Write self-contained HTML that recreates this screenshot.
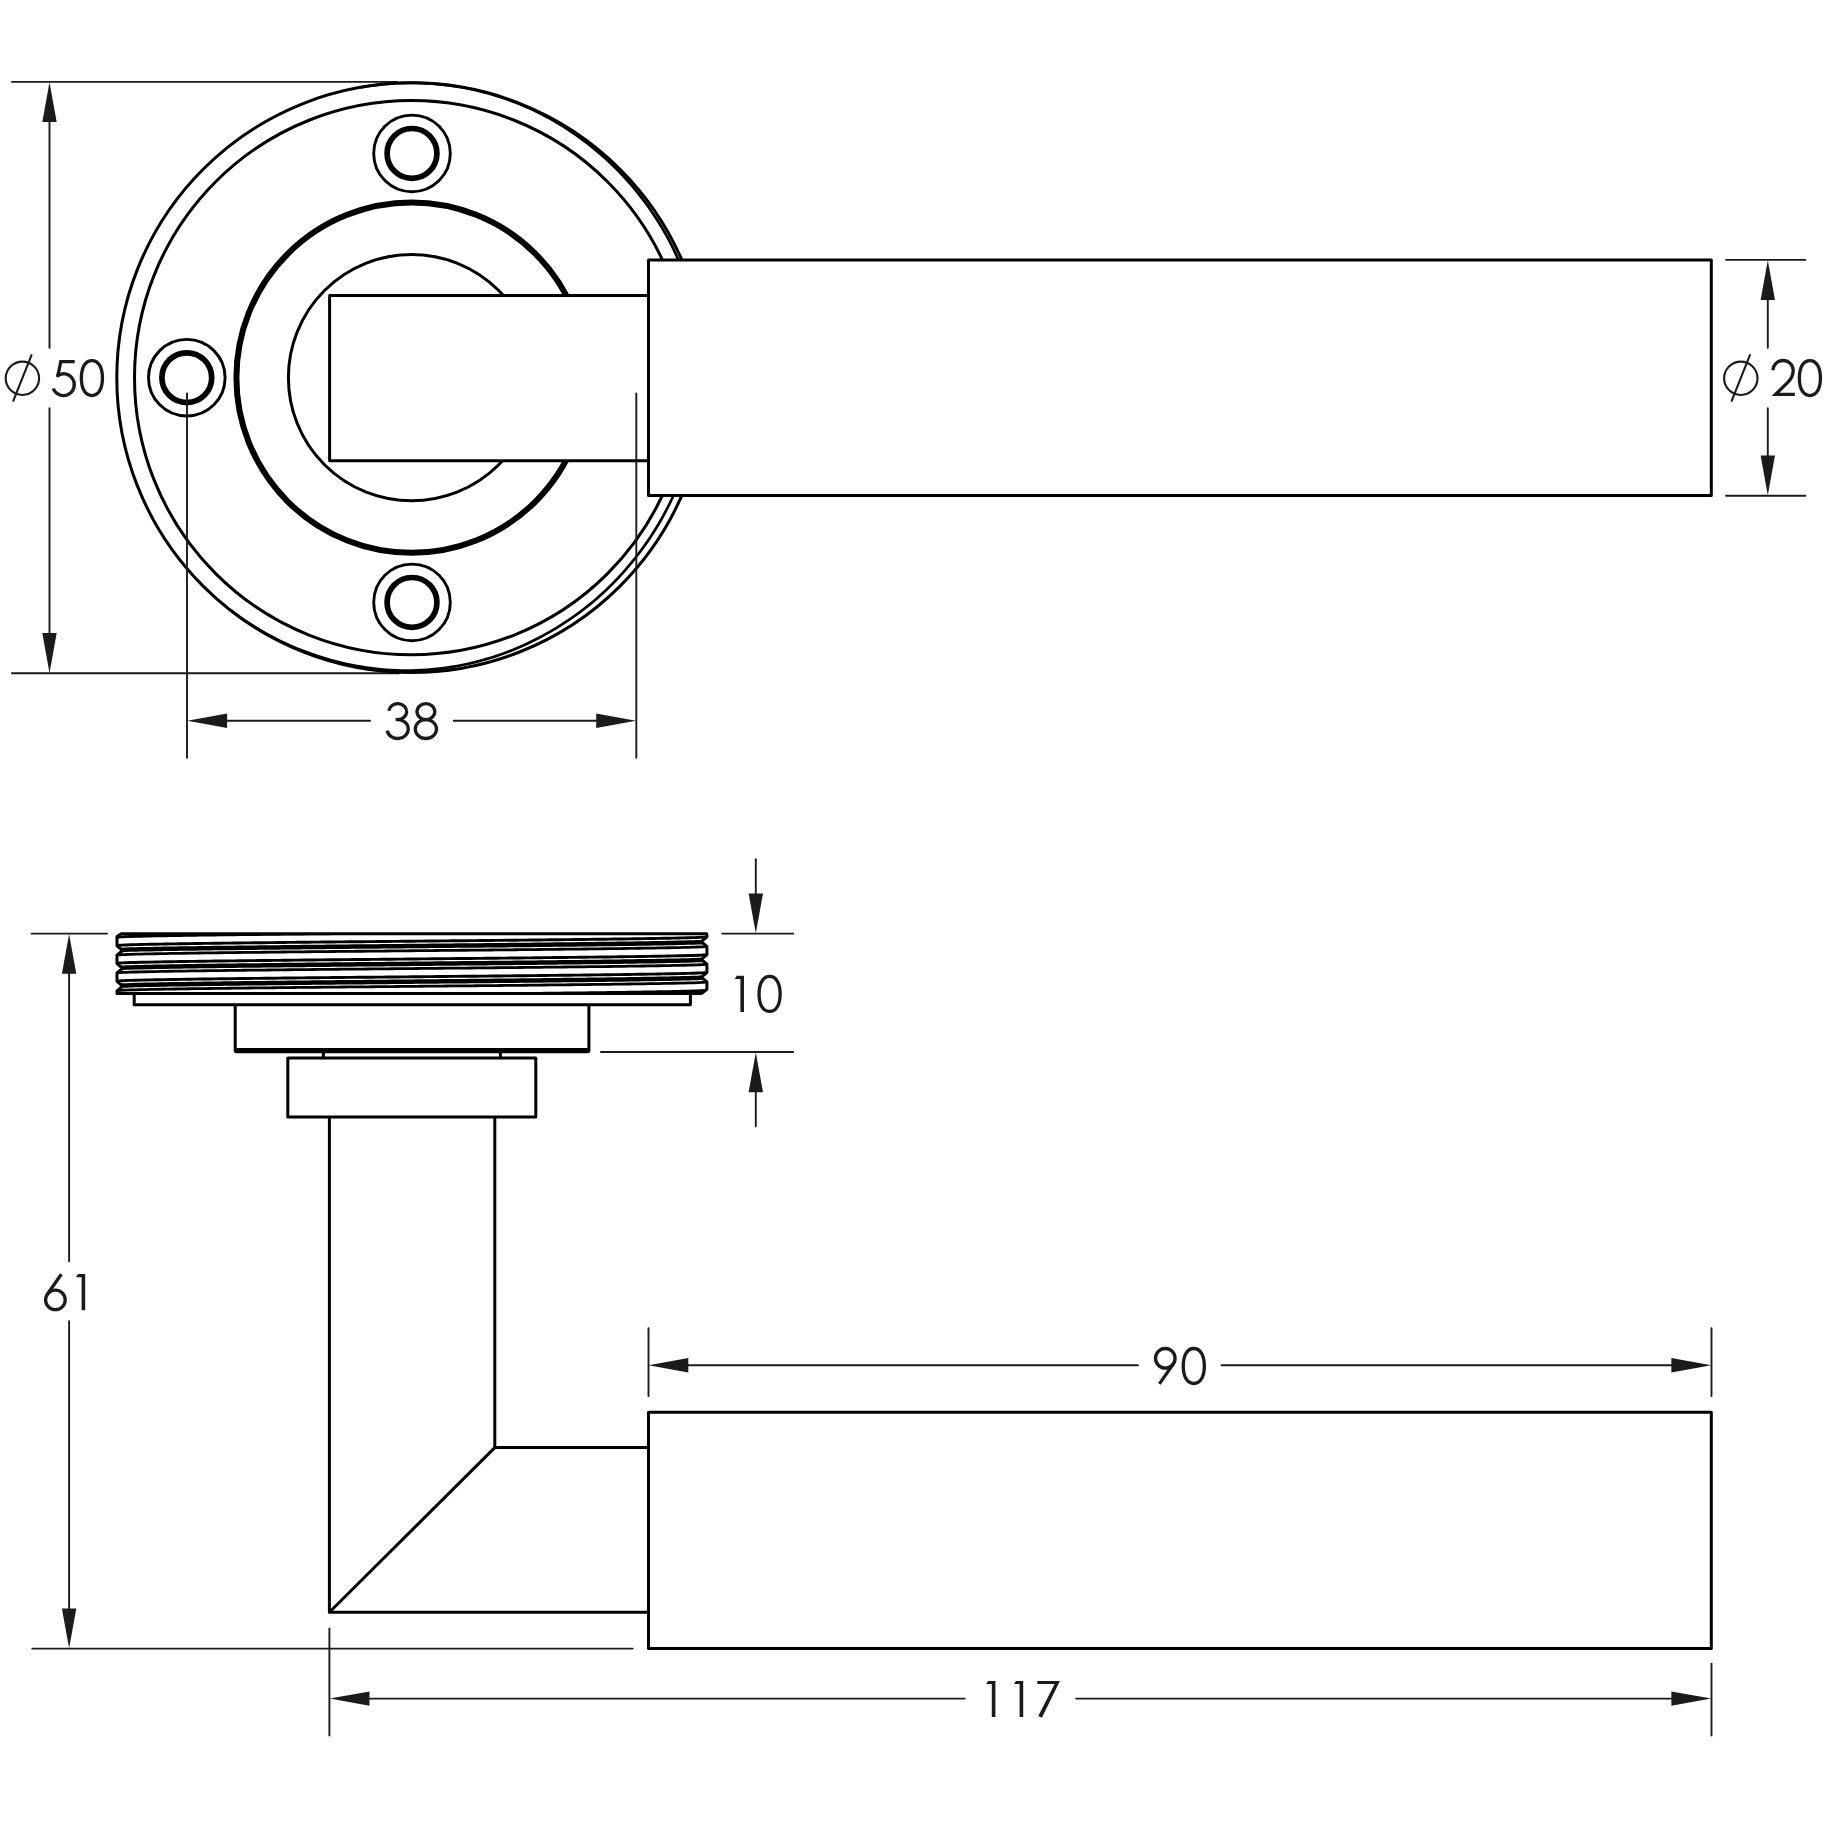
<!DOCTYPE html>
<html><head><meta charset="utf-8"><title>Lever handle dimensions</title>
<style>html,body{margin:0;padding:0;background:#fff;font-family:"Liberation Sans",sans-serif}svg{display:block}.o{fill:none;stroke:#000;stroke-width:3;stroke-linejoin:round}.w{fill:#fff;stroke:#000;stroke-width:3;stroke-linejoin:round}.t{fill:none;stroke:#1b1b1b;stroke-width:1.9;stroke-linecap:round}.f{fill:#1b1b1b;stroke:none}.g{fill:none;stroke:#1b1b1b;stroke-width:3.3}</style></head><body>
<svg width="1832" height="1832" viewBox="0 0 1832 1832">
<rect width="1832" height="1832" fill="#fff"/>
<g id="top">
<path d="M11.90,81.90 L397.10,81.90" class="t"/>
<path d="M11.90,673.30 L399.10,673.30" class="t"/>
<circle cx="411.6" cy="377.65" r="294.8" class="o"/>
<path d="M360.41,87.33 L365.48,86.48 L370.57,85.72 L375.67,85.05 L380.79,84.46 L385.91,83.97 L391.04,83.57 L396.17,83.26 L401.31,83.04 L406.46,82.91 L411.60,82.87 L416.74,82.93 L421.89,83.08 L427.03,83.32 L432.16,83.65 L437.28,84.07 L442.40,84.58 L447.51,85.19 L452.61,85.88 L457.69,86.66 L462.76,87.53 L467.81,88.48 L472.84,89.53 L477.85,90.67 L482.84,91.90 L487.81,93.23 L492.75,94.64 L497.66,96.15 L502.55,97.74 L507.40,99.42 L512.22,101.19 L517.01,103.05 L521.76,104.99 L526.48,107.01 L531.16,109.12 L535.79,111.32 L540.39,113.59 L544.94,115.95 L549.45,118.39 L553.91,120.91 L558.33,123.51 L562.69,126.19 L567.01,128.94 L571.28,131.76 L575.50,134.65 L579.67,137.62 L583.79,140.65 L587.86,143.75 L591.87,146.91 L595.83,150.15 L599.73,153.45 L603.57,156.81 L607.35,160.24 L611.07,163.74 L614.73,167.30 L618.33,170.92 L621.86,174.60 L625.33,178.34 L628.74,182.14 L632.08,185.99 L635.36,189.89 L638.57,193.85 L641.72,197.86 L644.79,201.93 L647.80,206.04 L650.74,210.20 L653.60,214.42 L656.39,218.68 L659.11,222.99 L661.75,227.34 L664.32,231.74 L666.81,236.19 L669.22,240.67 L671.54,245.20 L673.78,249.77 L675.93,254.39 L678.00,259.04 L679.97,263.73 L681.85,268.46 L683.64,273.22 L685.33,278.02 L686.94,282.84 L688.45,287.70 L689.88,292.57 L691.23,297.47 L692.49,302.39 L693.66,307.32 L694.75,312.28 L695.75,317.25 L696.66,322.24 L697.49,327.24 L698.23,332.25 L698.88,337.28 L699.44,342.31 L699.91,347.35 L700.30,352.39 L700.59,357.44 L700.80,362.49 L700.93,367.55 L700.96,372.60 L700.91,377.65 L700.77,382.70 L700.55,387.74 L700.24,392.78 L699.84,397.81 L699.35,402.83 L698.78,407.83 L698.12,412.83 L697.37,417.81 L696.54,422.78 L695.62,427.73 L694.62,432.66 L693.52,437.57 L692.35,442.47 L691.09,447.33 L689.74,452.18 L688.31,457.00 L686.80,461.79 L685.20,466.55 L683.53,471.28 L681.77,475.98 L679.93,480.65 L678.02,485.29 L676.05,489.90 L674.00,494.48 L671.88,499.02 L669.70,503.53 L667.44,508.01 L665.12,512.45 L662.73,516.85 L660.27,521.22 L657.73,525.54 L655.12,529.82 L652.43,534.05 L649.67,538.23 L646.84,542.37 L643.95,546.46 L640.99,550.51 L637.96,554.50 L634.88,558.46 L631.73,562.36 L628.52,566.22 L625.25,570.02 L621.92,573.78 L618.53,577.48 L615.07,581.12 L611.55,584.71 L607.97,588.23 L604.32,591.69 L600.61,595.09 L596.85,598.42 L593.02,601.69 L589.14,604.89 L585.20,608.02 L581.20,611.09 L577.15,614.08 L573.05,617.01 L568.90,619.88 L564.71,622.67 L560.46,625.40 L556.18,628.06 L551.84,630.65 L547.46,633.17 L543.04,635.62 L538.58,638.00 L534.08,640.30 L529.53,642.53 L524.95,644.68 L520.32,646.74 L515.66,648.73 L510.96,650.63 L506.22,652.46 L501.46,654.20 L496.66,655.85 L491.82,657.42 L486.96,658.91 L482.07,660.30 L477.16,661.61 L472.22,662.84 L467.26,663.97 L462.27,665.02 L457.27,665.98 L452.24,666.85 L447.21,667.63 L442.15,668.33 L437.08,668.94 L432.01,669.46 L426.92,669.88 L421.82,670.21 L416.71,670.44 L411.60,670.57 L406.49,670.61 L401.37,670.55 L396.26,670.39 L391.15,670.14 L386.04,669.78 L380.94,669.34 L375.85,668.81 L370.77,668.19 L365.69,667.48 L360.63,666.69 L355.59,665.80 L350.56,664.83 L345.55,663.76 L340.55,662.61 L335.58,661.37 L330.62,660.05 L325.69,658.64 L320.79,657.14 L315.91,655.56 L311.06,653.89 L306.24,652.14 L301.44,650.30 L296.68,648.38 L291.96,646.37 L287.27,644.29 L282.61,642.12 L277.99,639.87 L273.42,637.54 L268.88,635.12 L264.38,632.63 L259.93,630.07 L255.53,627.42 L251.17,624.70 L246.85,621.90 L242.59,619.02 L238.38,616.06 L234.23,613.03 L230.13,609.92" class="o" style="stroke-width:2.7;stroke-linejoin:round"/>
<circle cx="411.6" cy="377.65" r="277.1" class="o"/>
<circle cx="411.6" cy="377.65" r="175.2" class="o" style="stroke-width:6.0"/>
<circle cx="411.6" cy="377.65" r="123.2" class="o"/>
<circle cx="412" cy="153.4" r="38.3" class="o" style="stroke-width:2.9"/>
<circle cx="412" cy="153.4" r="24.9" class="o" style="stroke-width:5.7"/>
<circle cx="412" cy="602.4" r="38.3" class="o" style="stroke-width:2.9"/>
<circle cx="412" cy="602.4" r="24.9" class="o" style="stroke-width:5.7"/>
<circle cx="186.8" cy="377.7" r="38.3" class="o" style="stroke-width:2.9"/>
<circle cx="186.8" cy="377.7" r="24.9" class="o" style="stroke-width:5.7"/>
<rect x="329.6" y="295.4" width="318.9" height="165.4" class="w"/>
<rect x="648.5" y="259.9" width="1062.8" height="235.7" class="w"/>
<path d="M49.50,120.90 L49.50,347.70" class="t"/>
<path d="M49.50,408.10 L49.50,635.10" class="t"/>
<polygon points="49.50,82.20 42.30,122.00 56.70,122.00" class="f"/>
<polygon points="49.50,672.90 42.30,633.10 56.70,633.10" class="f"/>
<circle cx="22.4" cy="378.3" r="16.7" class="t" style="stroke-width:2.1"/><path d="M13.00,401.70 L31.80,354.40" class="t" style="stroke-width:2.1;stroke-linecap:butt"/>
<path d="M74.70,361.65 L60.80,361.65 L57.60,377.20" class="g" stroke-linejoin="miter"/><path d="M56.90,375.93 A10.9 10.9 0 1 1 53.20,388.50" class="g"/>
<path d="M81.35,378.10 C81.35,367.08 85.57,360.60 91.90,360.60 C98.23,360.60 102.45,367.08 102.45,378.10 C102.45,389.12 98.23,395.60 91.90,395.60 C85.57,395.60 81.35,389.12 81.35,378.10Z" class="g"/>
<path d="M187.00,393.40 L187.00,757.80" class="t"/>
<path d="M636.30,393.40 L636.30,757.80" class="t"/>
<path d="M226.90,720.80 L370.10,720.80" class="t"/>
<path d="M453.70,720.80 L596.10,720.80" class="t"/>
<polygon points="187.30,720.80 227.10,713.60 227.10,728.00" class="f"/>
<polygon points="636.00,720.80 596.20,713.60 596.20,728.00" class="f"/>
<path d="M388.90,710.90 A8.9 8.0 0 1 1 397.40,719.60 L395.60,719.60 M395.60,719.60 L397.40,719.60 A10.6 9.45 0 1 1 387.20,730.60" class="g"/>
<ellipse cx="425.90" cy="711.60" rx="8.9" ry="8.0" class="g"/><ellipse cx="425.90" cy="729.05" rx="10.6" ry="9.45" class="g"/>
<path d="M1726.10,259.90 L1805.40,259.90" class="t"/>
<path d="M1726.10,495.70 L1805.40,495.70" class="t"/>
<path d="M1767.80,298.90 L1767.80,347.70" class="t"/>
<path d="M1767.80,408.10 L1767.80,457.10" class="t"/>
<polygon points="1767.80,260.30 1760.60,300.10 1775.00,300.10" class="f"/>
<polygon points="1767.80,495.30 1760.60,455.50 1775.00,455.50" class="f"/>
<circle cx="1740.8" cy="378.3" r="16.7" class="t" style="stroke-width:2.1"/><path d="M1731.40,401.70 L1750.20,354.40" class="t" style="stroke-width:2.1;stroke-linecap:butt"/>
<path d="M1772.97,370.30 A10.1 9.8 0 0 1 1793.17,370.30 C1793.17,375.50 1791.67,378.40 1788.27,381.90 L1775.57,394.40 L1794.87,394.40" class="g" stroke-linejoin="miter" stroke-miterlimit="6"/>
<path d="M1799.35,378.10 C1799.35,367.08 1803.57,360.60 1809.90,360.60 C1816.23,360.60 1820.45,367.08 1820.45,378.10 C1820.45,389.12 1816.23,395.60 1809.90,395.60 C1803.57,395.60 1799.35,389.12 1799.35,378.10Z" class="g"/>
</g>
<g id="side">
<clipPath id="cs"><polygon points="121.20,933.80 706.70,933.80 706.90,936.00 706.90,936.90 701.30,941.60 706.90,946.30 706.90,954.70 701.30,959.40 706.90,964.10 706.90,972.50 701.30,977.20 706.90,981.90 706.90,989.30 701.70,993.40 117.00,993.40 117.00,990.80 122.60,986.10 117.00,981.40 117.00,973.00 122.60,968.30 117.00,963.60 117.00,955.20 122.60,950.50 117.00,945.80 117.00,937.40 117.00,936.60"/></clipPath>
<polygon points="121.20,933.80 706.70,933.80 706.90,936.00 706.90,936.90 701.30,941.60 706.90,946.30 706.90,954.70 701.30,959.40 706.90,964.10 706.90,972.50 701.30,977.20 706.90,981.90 706.90,989.30 701.70,993.40 117.00,993.40 117.00,990.80 122.60,986.10 117.00,981.40 117.00,973.00 122.60,968.30 117.00,963.60 117.00,955.20 122.60,950.50 117.00,945.80 117.00,937.40 117.00,936.60" fill="#fff" stroke="none"/>
<g clip-path="url(#cs)">
<path d="M116.00,927.85 L117.50,927.65 L118.50,927.55 L120.00,927.43 L120.93,927.38 L122.00,927.32 L125.00,927.18 L125.86,927.15 L130.80,926.97 L135.73,926.83 L140.66,926.70 L145.59,926.59 L150.53,926.48 L155.46,926.38 L160.39,926.29 L165.32,926.20 L170.26,926.12 L175.19,926.04 L180.12,925.96 L185.06,925.88 L189.99,925.81 L194.92,925.74 L199.85,925.67 L204.78,925.60 L209.72,925.54 L214.65,925.47 L219.58,925.41 L224.51,925.35 L229.45,925.29 L234.38,925.23 L239.31,925.17 L244.25,925.11 L249.18,925.06 L254.11,925.00 L259.04,924.94 L263.98,924.89 L268.91,924.83 L273.84,924.78 L278.77,924.73 L283.71,924.67 L288.64,924.62 L293.57,924.57 L298.50,924.52 L303.44,924.47 L308.37,924.42 L313.30,924.37 L318.23,924.32 L323.16,924.27 L328.10,924.22 L333.03,924.17 L337.96,924.12 L342.89,924.07 L347.83,924.02 L352.76,923.97 L357.69,923.92 L362.62,923.88 L367.56,923.83 L372.49,923.78 L377.42,923.73 L382.36,923.68 L387.29,923.64 L392.22,923.59 L397.15,923.54 L402.08,923.50 L407.02,923.45 L411.95,923.40 L416.88,923.35 L421.81,923.31 L426.75,923.26 L431.68,923.21 L436.61,923.16 L441.55,923.12 L446.48,923.07 L451.41,923.02 L456.34,922.97 L461.28,922.92 L466.21,922.88 L471.14,922.83 L476.07,922.78 L481.00,922.73 L485.94,922.68 L490.87,922.63 L495.80,922.58 L500.74,922.54 L505.67,922.49 L510.60,922.44 L515.53,922.38 L520.47,922.33 L525.40,922.28 L530.33,922.23 L535.26,922.18 L540.19,922.13 L545.13,922.07 L550.06,922.02 L554.99,921.97 L559.92,921.91 L564.86,921.86 L569.79,921.80 L574.72,921.75 L579.65,921.69 L584.59,921.63 L589.52,921.57 L594.45,921.51 L599.38,921.45 L604.32,921.39 L609.25,921.33 L614.18,921.26 L619.12,921.20 L624.05,921.13 L628.98,921.06 L633.91,920.99 L638.85,920.92 L643.78,920.84 L648.71,920.76 L653.64,920.68 L658.58,920.60 L663.51,920.51 L668.44,920.42 L673.37,920.32 L678.31,920.21 L683.24,920.10 L688.17,919.97 L693.10,919.83 L698.03,919.66 L698.90,919.62 L701.90,919.49 L702.97,919.43 L703.90,919.37 L705.40,919.26 L706.40,919.16 L707.90,918.95" stroke="#000" stroke-width="2.9" fill="none" stroke-linejoin="round"/>
<path d="M116.00,932.70 L117.50,932.50 L118.50,932.40 L120.00,932.28 L120.93,932.23 L122.00,932.17 L125.00,932.03 L125.86,932.00 L130.80,931.82 L135.73,931.68 L140.66,931.55 L145.59,931.44 L150.53,931.33 L155.46,931.23 L160.39,931.14 L165.32,931.05 L170.26,930.97 L175.19,930.89 L180.12,930.81 L185.06,930.73 L189.99,930.66 L194.92,930.59 L199.85,930.52 L204.78,930.45 L209.72,930.39 L214.65,930.32 L219.58,930.26 L224.51,930.20 L229.45,930.14 L234.38,930.08 L239.31,930.02 L244.25,929.96 L249.18,929.91 L254.11,929.85 L259.04,929.79 L263.98,929.74 L268.91,929.68 L273.84,929.63 L278.77,929.58 L283.71,929.52 L288.64,929.47 L293.57,929.42 L298.50,929.37 L303.44,929.32 L308.37,929.27 L313.30,929.22 L318.23,929.17 L323.16,929.12 L328.10,929.07 L333.03,929.02 L337.96,928.97 L342.89,928.92 L347.83,928.87 L352.76,928.82 L357.69,928.77 L362.62,928.73 L367.56,928.68 L372.49,928.63 L377.42,928.58 L382.36,928.53 L387.29,928.49 L392.22,928.44 L397.15,928.39 L402.08,928.35 L407.02,928.30 L411.95,928.25 L416.88,928.20 L421.81,928.16 L426.75,928.11 L431.68,928.06 L436.61,928.01 L441.55,927.97 L446.48,927.92 L451.41,927.87 L456.34,927.82 L461.28,927.77 L466.21,927.73 L471.14,927.68 L476.07,927.63 L481.00,927.58 L485.94,927.53 L490.87,927.48 L495.80,927.43 L500.74,927.39 L505.67,927.34 L510.60,927.29 L515.53,927.23 L520.47,927.18 L525.40,927.13 L530.33,927.08 L535.26,927.03 L540.19,926.98 L545.13,926.92 L550.06,926.87 L554.99,926.82 L559.92,926.76 L564.86,926.71 L569.79,926.65 L574.72,926.60 L579.65,926.54 L584.59,926.48 L589.52,926.42 L594.45,926.36 L599.38,926.30 L604.32,926.24 L609.25,926.18 L614.18,926.11 L619.12,926.05 L624.05,925.98 L628.98,925.91 L633.91,925.84 L638.85,925.77 L643.78,925.69 L648.71,925.61 L653.64,925.53 L658.58,925.45 L663.51,925.36 L668.44,925.27 L673.37,925.17 L678.31,925.06 L683.24,924.95 L688.17,924.82 L693.10,924.68 L698.03,924.51 L698.90,924.47 L701.90,924.34 L702.97,924.28 L703.90,924.22 L705.40,924.11 L706.40,924.01 L707.90,923.80" stroke="#000" stroke-width="4.5" fill="none" stroke-linejoin="round"/>
<path d="M116.00,937.40 L117.50,937.20 L118.50,937.10 L120.00,936.98 L120.93,936.93 L122.00,936.87 L125.00,936.73 L125.86,936.70 L130.80,936.52 L135.73,936.38 L140.66,936.25 L145.59,936.14 L150.53,936.03 L155.46,935.93 L160.39,935.84 L165.32,935.75 L170.26,935.67 L175.19,935.59 L180.12,935.51 L185.06,935.43 L189.99,935.36 L194.92,935.29 L199.85,935.22 L204.78,935.15 L209.72,935.09 L214.65,935.02 L219.58,934.96 L224.51,934.90 L229.45,934.84 L234.38,934.78 L239.31,934.72 L244.25,934.66 L249.18,934.61 L254.11,934.55 L259.04,934.49 L263.98,934.44 L268.91,934.38 L273.84,934.33 L278.77,934.28 L283.71,934.22 L288.64,934.17 L293.57,934.12 L298.50,934.07 L303.44,934.02 L308.37,933.97 L313.30,933.92 L318.23,933.87 L323.16,933.82 L328.10,933.77 L333.03,933.72 L337.96,933.67 L342.89,933.62 L347.83,933.57 L352.76,933.52 L357.69,933.47 L362.62,933.43 L367.56,933.38 L372.49,933.33 L377.42,933.28 L382.36,933.23 L387.29,933.19 L392.22,933.14 L397.15,933.09 L402.08,933.05 L407.02,933.00 L411.95,932.95 L416.88,932.90 L421.81,932.86 L426.75,932.81 L431.68,932.76 L436.61,932.71 L441.55,932.67 L446.48,932.62 L451.41,932.57 L456.34,932.52 L461.28,932.47 L466.21,932.43 L471.14,932.38 L476.07,932.33 L481.00,932.28 L485.94,932.23 L490.87,932.18 L495.80,932.13 L500.74,932.09 L505.67,932.04 L510.60,931.99 L515.53,931.93 L520.47,931.88 L525.40,931.83 L530.33,931.78 L535.26,931.73 L540.19,931.68 L545.13,931.62 L550.06,931.57 L554.99,931.52 L559.92,931.46 L564.86,931.41 L569.79,931.35 L574.72,931.30 L579.65,931.24 L584.59,931.18 L589.52,931.12 L594.45,931.06 L599.38,931.00 L604.32,930.94 L609.25,930.88 L614.18,930.81 L619.12,930.75 L624.05,930.68 L628.98,930.61 L633.91,930.54 L638.85,930.47 L643.78,930.39 L648.71,930.31 L653.64,930.23 L658.58,930.15 L663.51,930.06 L668.44,929.97 L673.37,929.87 L678.31,929.76 L683.24,929.65 L688.17,929.52 L693.10,929.38 L698.03,929.21 L698.90,929.17 L701.90,929.04 L702.97,928.98 L703.90,928.92 L705.40,928.81 L706.40,928.71 L707.90,928.50" stroke="#000" stroke-width="2.8" fill="none" stroke-linejoin="round"/>
<path d="M116.00,945.65 L117.50,945.45 L118.50,945.35 L120.00,945.23 L120.93,945.18 L122.00,945.12 L125.00,944.98 L125.86,944.95 L130.80,944.77 L135.73,944.63 L140.66,944.50 L145.59,944.39 L150.53,944.28 L155.46,944.18 L160.39,944.09 L165.32,944.00 L170.26,943.92 L175.19,943.84 L180.12,943.76 L185.06,943.68 L189.99,943.61 L194.92,943.54 L199.85,943.47 L204.78,943.40 L209.72,943.34 L214.65,943.27 L219.58,943.21 L224.51,943.15 L229.45,943.09 L234.38,943.03 L239.31,942.97 L244.25,942.91 L249.18,942.86 L254.11,942.80 L259.04,942.74 L263.98,942.69 L268.91,942.63 L273.84,942.58 L278.77,942.53 L283.71,942.47 L288.64,942.42 L293.57,942.37 L298.50,942.32 L303.44,942.27 L308.37,942.22 L313.30,942.17 L318.23,942.12 L323.16,942.07 L328.10,942.02 L333.03,941.97 L337.96,941.92 L342.89,941.87 L347.83,941.82 L352.76,941.77 L357.69,941.72 L362.62,941.68 L367.56,941.63 L372.49,941.58 L377.42,941.53 L382.36,941.48 L387.29,941.44 L392.22,941.39 L397.15,941.34 L402.08,941.30 L407.02,941.25 L411.95,941.20 L416.88,941.15 L421.81,941.11 L426.75,941.06 L431.68,941.01 L436.61,940.96 L441.55,940.92 L446.48,940.87 L451.41,940.82 L456.34,940.77 L461.28,940.72 L466.21,940.68 L471.14,940.63 L476.07,940.58 L481.00,940.53 L485.94,940.48 L490.87,940.43 L495.80,940.38 L500.74,940.34 L505.67,940.29 L510.60,940.24 L515.53,940.18 L520.47,940.13 L525.40,940.08 L530.33,940.03 L535.26,939.98 L540.19,939.93 L545.13,939.87 L550.06,939.82 L554.99,939.77 L559.92,939.71 L564.86,939.66 L569.79,939.60 L574.72,939.55 L579.65,939.49 L584.59,939.43 L589.52,939.37 L594.45,939.31 L599.38,939.25 L604.32,939.19 L609.25,939.13 L614.18,939.06 L619.12,939.00 L624.05,938.93 L628.98,938.86 L633.91,938.79 L638.85,938.72 L643.78,938.64 L648.71,938.56 L653.64,938.48 L658.58,938.40 L663.51,938.31 L668.44,938.22 L673.37,938.12 L678.31,938.01 L683.24,937.90 L688.17,937.77 L693.10,937.63 L698.03,937.46 L698.90,937.42 L701.90,937.29 L702.97,937.23 L703.90,937.17 L705.40,937.06 L706.40,936.96 L707.90,936.75" stroke="#000" stroke-width="2.9" fill="none" stroke-linejoin="round"/>
<path d="M116.00,950.50 L117.50,950.30 L118.50,950.20 L120.00,950.08 L120.93,950.03 L122.00,949.97 L125.00,949.83 L125.86,949.80 L130.80,949.62 L135.73,949.48 L140.66,949.35 L145.59,949.24 L150.53,949.13 L155.46,949.03 L160.39,948.94 L165.32,948.85 L170.26,948.77 L175.19,948.69 L180.12,948.61 L185.06,948.53 L189.99,948.46 L194.92,948.39 L199.85,948.32 L204.78,948.25 L209.72,948.19 L214.65,948.12 L219.58,948.06 L224.51,948.00 L229.45,947.94 L234.38,947.88 L239.31,947.82 L244.25,947.76 L249.18,947.71 L254.11,947.65 L259.04,947.59 L263.98,947.54 L268.91,947.48 L273.84,947.43 L278.77,947.38 L283.71,947.32 L288.64,947.27 L293.57,947.22 L298.50,947.17 L303.44,947.12 L308.37,947.07 L313.30,947.02 L318.23,946.97 L323.16,946.92 L328.10,946.87 L333.03,946.82 L337.96,946.77 L342.89,946.72 L347.83,946.67 L352.76,946.62 L357.69,946.57 L362.62,946.53 L367.56,946.48 L372.49,946.43 L377.42,946.38 L382.36,946.33 L387.29,946.29 L392.22,946.24 L397.15,946.19 L402.08,946.15 L407.02,946.10 L411.95,946.05 L416.88,946.00 L421.81,945.96 L426.75,945.91 L431.68,945.86 L436.61,945.81 L441.55,945.77 L446.48,945.72 L451.41,945.67 L456.34,945.62 L461.28,945.57 L466.21,945.53 L471.14,945.48 L476.07,945.43 L481.00,945.38 L485.94,945.33 L490.87,945.28 L495.80,945.23 L500.74,945.19 L505.67,945.14 L510.60,945.09 L515.53,945.03 L520.47,944.98 L525.40,944.93 L530.33,944.88 L535.26,944.83 L540.19,944.78 L545.13,944.72 L550.06,944.67 L554.99,944.62 L559.92,944.56 L564.86,944.51 L569.79,944.45 L574.72,944.40 L579.65,944.34 L584.59,944.28 L589.52,944.22 L594.45,944.16 L599.38,944.10 L604.32,944.04 L609.25,943.98 L614.18,943.91 L619.12,943.85 L624.05,943.78 L628.98,943.71 L633.91,943.64 L638.85,943.57 L643.78,943.49 L648.71,943.41 L653.64,943.33 L658.58,943.25 L663.51,943.16 L668.44,943.07 L673.37,942.97 L678.31,942.86 L683.24,942.75 L688.17,942.62 L693.10,942.48 L698.03,942.31 L698.90,942.27 L701.90,942.14 L702.97,942.08 L703.90,942.02 L705.40,941.91 L706.40,941.81 L707.90,941.60" stroke="#000" stroke-width="4.5" fill="none" stroke-linejoin="round"/>
<path d="M116.00,955.20 L117.50,955.00 L118.50,954.90 L120.00,954.78 L120.93,954.73 L122.00,954.67 L125.00,954.53 L125.86,954.50 L130.80,954.32 L135.73,954.18 L140.66,954.05 L145.59,953.94 L150.53,953.83 L155.46,953.73 L160.39,953.64 L165.32,953.55 L170.26,953.47 L175.19,953.39 L180.12,953.31 L185.06,953.23 L189.99,953.16 L194.92,953.09 L199.85,953.02 L204.78,952.95 L209.72,952.89 L214.65,952.82 L219.58,952.76 L224.51,952.70 L229.45,952.64 L234.38,952.58 L239.31,952.52 L244.25,952.46 L249.18,952.41 L254.11,952.35 L259.04,952.29 L263.98,952.24 L268.91,952.18 L273.84,952.13 L278.77,952.08 L283.71,952.02 L288.64,951.97 L293.57,951.92 L298.50,951.87 L303.44,951.82 L308.37,951.77 L313.30,951.72 L318.23,951.67 L323.16,951.62 L328.10,951.57 L333.03,951.52 L337.96,951.47 L342.89,951.42 L347.83,951.37 L352.76,951.32 L357.69,951.27 L362.62,951.23 L367.56,951.18 L372.49,951.13 L377.42,951.08 L382.36,951.03 L387.29,950.99 L392.22,950.94 L397.15,950.89 L402.08,950.85 L407.02,950.80 L411.95,950.75 L416.88,950.70 L421.81,950.66 L426.75,950.61 L431.68,950.56 L436.61,950.51 L441.55,950.47 L446.48,950.42 L451.41,950.37 L456.34,950.32 L461.28,950.27 L466.21,950.23 L471.14,950.18 L476.07,950.13 L481.00,950.08 L485.94,950.03 L490.87,949.98 L495.80,949.93 L500.74,949.89 L505.67,949.84 L510.60,949.79 L515.53,949.73 L520.47,949.68 L525.40,949.63 L530.33,949.58 L535.26,949.53 L540.19,949.48 L545.13,949.42 L550.06,949.37 L554.99,949.32 L559.92,949.26 L564.86,949.21 L569.79,949.15 L574.72,949.10 L579.65,949.04 L584.59,948.98 L589.52,948.92 L594.45,948.86 L599.38,948.80 L604.32,948.74 L609.25,948.68 L614.18,948.61 L619.12,948.55 L624.05,948.48 L628.98,948.41 L633.91,948.34 L638.85,948.27 L643.78,948.19 L648.71,948.11 L653.64,948.03 L658.58,947.95 L663.51,947.86 L668.44,947.77 L673.37,947.67 L678.31,947.56 L683.24,947.45 L688.17,947.32 L693.10,947.18 L698.03,947.01 L698.90,946.97 L701.90,946.84 L702.97,946.78 L703.90,946.72 L705.40,946.61 L706.40,946.51 L707.90,946.30" stroke="#000" stroke-width="2.8" fill="none" stroke-linejoin="round"/>
<path d="M116.00,963.45 L117.50,963.25 L118.50,963.15 L120.00,963.03 L120.93,962.98 L122.00,962.92 L125.00,962.78 L125.86,962.75 L130.80,962.57 L135.73,962.43 L140.66,962.30 L145.59,962.19 L150.53,962.08 L155.46,961.98 L160.39,961.89 L165.32,961.80 L170.26,961.72 L175.19,961.64 L180.12,961.56 L185.06,961.48 L189.99,961.41 L194.92,961.34 L199.85,961.27 L204.78,961.20 L209.72,961.14 L214.65,961.07 L219.58,961.01 L224.51,960.95 L229.45,960.89 L234.38,960.83 L239.31,960.77 L244.25,960.71 L249.18,960.66 L254.11,960.60 L259.04,960.54 L263.98,960.49 L268.91,960.43 L273.84,960.38 L278.77,960.33 L283.71,960.27 L288.64,960.22 L293.57,960.17 L298.50,960.12 L303.44,960.07 L308.37,960.02 L313.30,959.97 L318.23,959.92 L323.16,959.87 L328.10,959.82 L333.03,959.77 L337.96,959.72 L342.89,959.67 L347.83,959.62 L352.76,959.57 L357.69,959.52 L362.62,959.48 L367.56,959.43 L372.49,959.38 L377.42,959.33 L382.36,959.28 L387.29,959.24 L392.22,959.19 L397.15,959.14 L402.08,959.10 L407.02,959.05 L411.95,959.00 L416.88,958.95 L421.81,958.91 L426.75,958.86 L431.68,958.81 L436.61,958.76 L441.55,958.72 L446.48,958.67 L451.41,958.62 L456.34,958.57 L461.28,958.52 L466.21,958.48 L471.14,958.43 L476.07,958.38 L481.00,958.33 L485.94,958.28 L490.87,958.23 L495.80,958.18 L500.74,958.14 L505.67,958.09 L510.60,958.04 L515.53,957.98 L520.47,957.93 L525.40,957.88 L530.33,957.83 L535.26,957.78 L540.19,957.73 L545.13,957.67 L550.06,957.62 L554.99,957.57 L559.92,957.51 L564.86,957.46 L569.79,957.40 L574.72,957.35 L579.65,957.29 L584.59,957.23 L589.52,957.17 L594.45,957.11 L599.38,957.05 L604.32,956.99 L609.25,956.93 L614.18,956.86 L619.12,956.80 L624.05,956.73 L628.98,956.66 L633.91,956.59 L638.85,956.52 L643.78,956.44 L648.71,956.36 L653.64,956.28 L658.58,956.20 L663.51,956.11 L668.44,956.02 L673.37,955.92 L678.31,955.81 L683.24,955.70 L688.17,955.57 L693.10,955.43 L698.03,955.26 L698.90,955.22 L701.90,955.09 L702.97,955.03 L703.90,954.97 L705.40,954.86 L706.40,954.76 L707.90,954.55" stroke="#000" stroke-width="2.9" fill="none" stroke-linejoin="round"/>
<path d="M116.00,968.30 L117.50,968.10 L118.50,968.00 L120.00,967.88 L120.93,967.83 L122.00,967.77 L125.00,967.63 L125.86,967.60 L130.80,967.42 L135.73,967.28 L140.66,967.15 L145.59,967.04 L150.53,966.93 L155.46,966.83 L160.39,966.74 L165.32,966.65 L170.26,966.57 L175.19,966.49 L180.12,966.41 L185.06,966.33 L189.99,966.26 L194.92,966.19 L199.85,966.12 L204.78,966.05 L209.72,965.99 L214.65,965.92 L219.58,965.86 L224.51,965.80 L229.45,965.74 L234.38,965.68 L239.31,965.62 L244.25,965.56 L249.18,965.51 L254.11,965.45 L259.04,965.39 L263.98,965.34 L268.91,965.28 L273.84,965.23 L278.77,965.18 L283.71,965.12 L288.64,965.07 L293.57,965.02 L298.50,964.97 L303.44,964.92 L308.37,964.87 L313.30,964.82 L318.23,964.77 L323.16,964.72 L328.10,964.67 L333.03,964.62 L337.96,964.57 L342.89,964.52 L347.83,964.47 L352.76,964.42 L357.69,964.37 L362.62,964.33 L367.56,964.28 L372.49,964.23 L377.42,964.18 L382.36,964.13 L387.29,964.09 L392.22,964.04 L397.15,963.99 L402.08,963.95 L407.02,963.90 L411.95,963.85 L416.88,963.80 L421.81,963.76 L426.75,963.71 L431.68,963.66 L436.61,963.61 L441.55,963.57 L446.48,963.52 L451.41,963.47 L456.34,963.42 L461.28,963.37 L466.21,963.33 L471.14,963.28 L476.07,963.23 L481.00,963.18 L485.94,963.13 L490.87,963.08 L495.80,963.03 L500.74,962.99 L505.67,962.94 L510.60,962.89 L515.53,962.83 L520.47,962.78 L525.40,962.73 L530.33,962.68 L535.26,962.63 L540.19,962.58 L545.13,962.52 L550.06,962.47 L554.99,962.42 L559.92,962.36 L564.86,962.31 L569.79,962.25 L574.72,962.20 L579.65,962.14 L584.59,962.08 L589.52,962.02 L594.45,961.96 L599.38,961.90 L604.32,961.84 L609.25,961.78 L614.18,961.71 L619.12,961.65 L624.05,961.58 L628.98,961.51 L633.91,961.44 L638.85,961.37 L643.78,961.29 L648.71,961.21 L653.64,961.13 L658.58,961.05 L663.51,960.96 L668.44,960.87 L673.37,960.77 L678.31,960.66 L683.24,960.55 L688.17,960.42 L693.10,960.28 L698.03,960.11 L698.90,960.07 L701.90,959.94 L702.97,959.88 L703.90,959.82 L705.40,959.71 L706.40,959.61 L707.90,959.40" stroke="#000" stroke-width="4.5" fill="none" stroke-linejoin="round"/>
<path d="M116.00,973.00 L117.50,972.80 L118.50,972.70 L120.00,972.58 L120.93,972.53 L122.00,972.47 L125.00,972.33 L125.86,972.30 L130.80,972.12 L135.73,971.98 L140.66,971.85 L145.59,971.74 L150.53,971.63 L155.46,971.53 L160.39,971.44 L165.32,971.35 L170.26,971.27 L175.19,971.19 L180.12,971.11 L185.06,971.03 L189.99,970.96 L194.92,970.89 L199.85,970.82 L204.78,970.75 L209.72,970.69 L214.65,970.62 L219.58,970.56 L224.51,970.50 L229.45,970.44 L234.38,970.38 L239.31,970.32 L244.25,970.26 L249.18,970.21 L254.11,970.15 L259.04,970.09 L263.98,970.04 L268.91,969.98 L273.84,969.93 L278.77,969.88 L283.71,969.82 L288.64,969.77 L293.57,969.72 L298.50,969.67 L303.44,969.62 L308.37,969.57 L313.30,969.52 L318.23,969.47 L323.16,969.42 L328.10,969.37 L333.03,969.32 L337.96,969.27 L342.89,969.22 L347.83,969.17 L352.76,969.12 L357.69,969.07 L362.62,969.03 L367.56,968.98 L372.49,968.93 L377.42,968.88 L382.36,968.83 L387.29,968.79 L392.22,968.74 L397.15,968.69 L402.08,968.65 L407.02,968.60 L411.95,968.55 L416.88,968.50 L421.81,968.46 L426.75,968.41 L431.68,968.36 L436.61,968.31 L441.55,968.27 L446.48,968.22 L451.41,968.17 L456.34,968.12 L461.28,968.07 L466.21,968.03 L471.14,967.98 L476.07,967.93 L481.00,967.88 L485.94,967.83 L490.87,967.78 L495.80,967.73 L500.74,967.69 L505.67,967.64 L510.60,967.59 L515.53,967.53 L520.47,967.48 L525.40,967.43 L530.33,967.38 L535.26,967.33 L540.19,967.28 L545.13,967.22 L550.06,967.17 L554.99,967.12 L559.92,967.06 L564.86,967.01 L569.79,966.95 L574.72,966.90 L579.65,966.84 L584.59,966.78 L589.52,966.72 L594.45,966.66 L599.38,966.60 L604.32,966.54 L609.25,966.48 L614.18,966.41 L619.12,966.35 L624.05,966.28 L628.98,966.21 L633.91,966.14 L638.85,966.07 L643.78,965.99 L648.71,965.91 L653.64,965.83 L658.58,965.75 L663.51,965.66 L668.44,965.57 L673.37,965.47 L678.31,965.36 L683.24,965.25 L688.17,965.12 L693.10,964.98 L698.03,964.81 L698.90,964.77 L701.90,964.64 L702.97,964.58 L703.90,964.52 L705.40,964.41 L706.40,964.31 L707.90,964.10" stroke="#000" stroke-width="2.8" fill="none" stroke-linejoin="round"/>
<path d="M116.00,981.25 L117.50,981.05 L118.50,980.95 L120.00,980.83 L120.93,980.78 L122.00,980.72 L125.00,980.58 L125.86,980.55 L130.80,980.37 L135.73,980.23 L140.66,980.10 L145.59,979.99 L150.53,979.88 L155.46,979.78 L160.39,979.69 L165.32,979.60 L170.26,979.52 L175.19,979.44 L180.12,979.36 L185.06,979.28 L189.99,979.21 L194.92,979.14 L199.85,979.07 L204.78,979.00 L209.72,978.94 L214.65,978.87 L219.58,978.81 L224.51,978.75 L229.45,978.69 L234.38,978.63 L239.31,978.57 L244.25,978.51 L249.18,978.46 L254.11,978.40 L259.04,978.34 L263.98,978.29 L268.91,978.23 L273.84,978.18 L278.77,978.13 L283.71,978.07 L288.64,978.02 L293.57,977.97 L298.50,977.92 L303.44,977.87 L308.37,977.82 L313.30,977.77 L318.23,977.72 L323.16,977.67 L328.10,977.62 L333.03,977.57 L337.96,977.52 L342.89,977.47 L347.83,977.42 L352.76,977.37 L357.69,977.32 L362.62,977.28 L367.56,977.23 L372.49,977.18 L377.42,977.13 L382.36,977.08 L387.29,977.04 L392.22,976.99 L397.15,976.94 L402.08,976.90 L407.02,976.85 L411.95,976.80 L416.88,976.75 L421.81,976.71 L426.75,976.66 L431.68,976.61 L436.61,976.56 L441.55,976.52 L446.48,976.47 L451.41,976.42 L456.34,976.37 L461.28,976.32 L466.21,976.28 L471.14,976.23 L476.07,976.18 L481.00,976.13 L485.94,976.08 L490.87,976.03 L495.80,975.98 L500.74,975.94 L505.67,975.89 L510.60,975.84 L515.53,975.78 L520.47,975.73 L525.40,975.68 L530.33,975.63 L535.26,975.58 L540.19,975.53 L545.13,975.47 L550.06,975.42 L554.99,975.37 L559.92,975.31 L564.86,975.26 L569.79,975.20 L574.72,975.15 L579.65,975.09 L584.59,975.03 L589.52,974.97 L594.45,974.91 L599.38,974.85 L604.32,974.79 L609.25,974.73 L614.18,974.66 L619.12,974.60 L624.05,974.53 L628.98,974.46 L633.91,974.39 L638.85,974.32 L643.78,974.24 L648.71,974.16 L653.64,974.08 L658.58,974.00 L663.51,973.91 L668.44,973.82 L673.37,973.72 L678.31,973.61 L683.24,973.50 L688.17,973.37 L693.10,973.23 L698.03,973.06 L698.90,973.02 L701.90,972.89 L702.97,972.83 L703.90,972.77 L705.40,972.66 L706.40,972.56 L707.90,972.35" stroke="#000" stroke-width="2.9" fill="none" stroke-linejoin="round"/>
<path d="M116.00,986.10 L117.50,985.90 L118.50,985.80 L120.00,985.68 L120.93,985.63 L122.00,985.57 L125.00,985.43 L125.86,985.40 L130.80,985.22 L135.73,985.08 L140.66,984.95 L145.59,984.84 L150.53,984.73 L155.46,984.63 L160.39,984.54 L165.32,984.45 L170.26,984.37 L175.19,984.29 L180.12,984.21 L185.06,984.13 L189.99,984.06 L194.92,983.99 L199.85,983.92 L204.78,983.85 L209.72,983.79 L214.65,983.72 L219.58,983.66 L224.51,983.60 L229.45,983.54 L234.38,983.48 L239.31,983.42 L244.25,983.36 L249.18,983.31 L254.11,983.25 L259.04,983.19 L263.98,983.14 L268.91,983.08 L273.84,983.03 L278.77,982.98 L283.71,982.92 L288.64,982.87 L293.57,982.82 L298.50,982.77 L303.44,982.72 L308.37,982.67 L313.30,982.62 L318.23,982.57 L323.16,982.52 L328.10,982.47 L333.03,982.42 L337.96,982.37 L342.89,982.32 L347.83,982.27 L352.76,982.22 L357.69,982.17 L362.62,982.13 L367.56,982.08 L372.49,982.03 L377.42,981.98 L382.36,981.93 L387.29,981.89 L392.22,981.84 L397.15,981.79 L402.08,981.75 L407.02,981.70 L411.95,981.65 L416.88,981.60 L421.81,981.56 L426.75,981.51 L431.68,981.46 L436.61,981.41 L441.55,981.37 L446.48,981.32 L451.41,981.27 L456.34,981.22 L461.28,981.17 L466.21,981.13 L471.14,981.08 L476.07,981.03 L481.00,980.98 L485.94,980.93 L490.87,980.88 L495.80,980.83 L500.74,980.79 L505.67,980.74 L510.60,980.69 L515.53,980.63 L520.47,980.58 L525.40,980.53 L530.33,980.48 L535.26,980.43 L540.19,980.38 L545.13,980.32 L550.06,980.27 L554.99,980.22 L559.92,980.16 L564.86,980.11 L569.79,980.05 L574.72,980.00 L579.65,979.94 L584.59,979.88 L589.52,979.82 L594.45,979.76 L599.38,979.70 L604.32,979.64 L609.25,979.58 L614.18,979.51 L619.12,979.45 L624.05,979.38 L628.98,979.31 L633.91,979.24 L638.85,979.17 L643.78,979.09 L648.71,979.01 L653.64,978.93 L658.58,978.85 L663.51,978.76 L668.44,978.67 L673.37,978.57 L678.31,978.46 L683.24,978.35 L688.17,978.22 L693.10,978.08 L698.03,977.91 L698.90,977.87 L701.90,977.74 L702.97,977.68 L703.90,977.62 L705.40,977.51 L706.40,977.41 L707.90,977.20" stroke="#000" stroke-width="4.5" fill="none" stroke-linejoin="round"/>
<path d="M116.00,990.80 L117.50,990.60 L118.50,990.50 L120.00,990.38 L120.93,990.33 L122.00,990.27 L125.00,990.13 L125.86,990.10 L130.80,989.92 L135.73,989.78 L140.66,989.65 L145.59,989.54 L150.53,989.43 L155.46,989.33 L160.39,989.24 L165.32,989.15 L170.26,989.07 L175.19,988.99 L180.12,988.91 L185.06,988.83 L189.99,988.76 L194.92,988.69 L199.85,988.62 L204.78,988.55 L209.72,988.49 L214.65,988.42 L219.58,988.36 L224.51,988.30 L229.45,988.24 L234.38,988.18 L239.31,988.12 L244.25,988.06 L249.18,988.01 L254.11,987.95 L259.04,987.89 L263.98,987.84 L268.91,987.78 L273.84,987.73 L278.77,987.68 L283.71,987.62 L288.64,987.57 L293.57,987.52 L298.50,987.47 L303.44,987.42 L308.37,987.37 L313.30,987.32 L318.23,987.27 L323.16,987.22 L328.10,987.17 L333.03,987.12 L337.96,987.07 L342.89,987.02 L347.83,986.97 L352.76,986.92 L357.69,986.87 L362.62,986.83 L367.56,986.78 L372.49,986.73 L377.42,986.68 L382.36,986.63 L387.29,986.59 L392.22,986.54 L397.15,986.49 L402.08,986.45 L407.02,986.40 L411.95,986.35 L416.88,986.30 L421.81,986.26 L426.75,986.21 L431.68,986.16 L436.61,986.11 L441.55,986.07 L446.48,986.02 L451.41,985.97 L456.34,985.92 L461.28,985.87 L466.21,985.83 L471.14,985.78 L476.07,985.73 L481.00,985.68 L485.94,985.63 L490.87,985.58 L495.80,985.53 L500.74,985.49 L505.67,985.44 L510.60,985.39 L515.53,985.33 L520.47,985.28 L525.40,985.23 L530.33,985.18 L535.26,985.13 L540.19,985.08 L545.13,985.02 L550.06,984.97 L554.99,984.92 L559.92,984.86 L564.86,984.81 L569.79,984.75 L574.72,984.70 L579.65,984.64 L584.59,984.58 L589.52,984.52 L594.45,984.46 L599.38,984.40 L604.32,984.34 L609.25,984.28 L614.18,984.21 L619.12,984.15 L624.05,984.08 L628.98,984.01 L633.91,983.94 L638.85,983.87 L643.78,983.79 L648.71,983.71 L653.64,983.63 L658.58,983.55 L663.51,983.46 L668.44,983.37 L673.37,983.27 L678.31,983.16 L683.24,983.05 L688.17,982.92 L693.10,982.78 L698.03,982.61 L698.90,982.57 L701.90,982.44 L702.97,982.38 L703.90,982.32 L705.40,982.21 L706.40,982.11 L707.90,981.90" stroke="#000" stroke-width="2.8" fill="none" stroke-linejoin="round"/>
<path d="M116.00,999.05 L117.50,998.85 L118.50,998.75 L120.00,998.63 L120.93,998.58 L122.00,998.52 L125.00,998.38 L125.86,998.35 L130.80,998.17 L135.73,998.03 L140.66,997.90 L145.59,997.79 L150.53,997.68 L155.46,997.58 L160.39,997.49 L165.32,997.40 L170.26,997.32 L175.19,997.24 L180.12,997.16 L185.06,997.08 L189.99,997.01 L194.92,996.94 L199.85,996.87 L204.78,996.80 L209.72,996.74 L214.65,996.67 L219.58,996.61 L224.51,996.55 L229.45,996.49 L234.38,996.43 L239.31,996.37 L244.25,996.31 L249.18,996.26 L254.11,996.20 L259.04,996.14 L263.98,996.09 L268.91,996.03 L273.84,995.98 L278.77,995.93 L283.71,995.87 L288.64,995.82 L293.57,995.77 L298.50,995.72 L303.44,995.67 L308.37,995.62 L313.30,995.57 L318.23,995.52 L323.16,995.47 L328.10,995.42 L333.03,995.37 L337.96,995.32 L342.89,995.27 L347.83,995.22 L352.76,995.17 L357.69,995.12 L362.62,995.08 L367.56,995.03 L372.49,994.98 L377.42,994.93 L382.36,994.88 L387.29,994.84 L392.22,994.79 L397.15,994.74 L402.08,994.70 L407.02,994.65 L411.95,994.60 L416.88,994.55 L421.81,994.51 L426.75,994.46 L431.68,994.41 L436.61,994.36 L441.55,994.32 L446.48,994.27 L451.41,994.22 L456.34,994.17 L461.28,994.12 L466.21,994.08 L471.14,994.03 L476.07,993.98 L481.00,993.93 L485.94,993.88 L490.87,993.83 L495.80,993.78 L500.74,993.74 L505.67,993.69 L510.60,993.64 L515.53,993.58 L520.47,993.53 L525.40,993.48 L530.33,993.43 L535.26,993.38 L540.19,993.33 L545.13,993.27 L550.06,993.22 L554.99,993.17 L559.92,993.11 L564.86,993.06 L569.79,993.00 L574.72,992.95 L579.65,992.89 L584.59,992.83 L589.52,992.77 L594.45,992.71 L599.38,992.65 L604.32,992.59 L609.25,992.53 L614.18,992.46 L619.12,992.40 L624.05,992.33 L628.98,992.26 L633.91,992.19 L638.85,992.12 L643.78,992.04 L648.71,991.96 L653.64,991.88 L658.58,991.80 L663.51,991.71 L668.44,991.62 L673.37,991.52 L678.31,991.41 L683.24,991.30 L688.17,991.17 L693.10,991.03 L698.03,990.86 L698.90,990.82 L701.90,990.69 L702.97,990.63 L703.90,990.57 L705.40,990.46 L706.40,990.36 L707.90,990.15" stroke="#000" stroke-width="2.9" fill="none" stroke-linejoin="round"/>
<path d="M116.00,1003.90 L117.50,1003.70 L118.50,1003.60 L120.00,1003.48 L120.93,1003.43 L122.00,1003.37 L125.00,1003.23 L125.86,1003.20 L130.80,1003.02 L135.73,1002.88 L140.66,1002.75 L145.59,1002.64 L150.53,1002.53 L155.46,1002.43 L160.39,1002.34 L165.32,1002.25 L170.26,1002.17 L175.19,1002.09 L180.12,1002.01 L185.06,1001.93 L189.99,1001.86 L194.92,1001.79 L199.85,1001.72 L204.78,1001.65 L209.72,1001.59 L214.65,1001.52 L219.58,1001.46 L224.51,1001.40 L229.45,1001.34 L234.38,1001.28 L239.31,1001.22 L244.25,1001.16 L249.18,1001.11 L254.11,1001.05 L259.04,1000.99 L263.98,1000.94 L268.91,1000.88 L273.84,1000.83 L278.77,1000.78 L283.71,1000.72 L288.64,1000.67 L293.57,1000.62 L298.50,1000.57 L303.44,1000.52 L308.37,1000.47 L313.30,1000.42 L318.23,1000.37 L323.16,1000.32 L328.10,1000.27 L333.03,1000.22 L337.96,1000.17 L342.89,1000.12 L347.83,1000.07 L352.76,1000.02 L357.69,999.97 L362.62,999.93 L367.56,999.88 L372.49,999.83 L377.42,999.78 L382.36,999.73 L387.29,999.69 L392.22,999.64 L397.15,999.59 L402.08,999.55 L407.02,999.50 L411.95,999.45 L416.88,999.40 L421.81,999.36 L426.75,999.31 L431.68,999.26 L436.61,999.21 L441.55,999.17 L446.48,999.12 L451.41,999.07 L456.34,999.02 L461.28,998.97 L466.21,998.93 L471.14,998.88 L476.07,998.83 L481.00,998.78 L485.94,998.73 L490.87,998.68 L495.80,998.63 L500.74,998.59 L505.67,998.54 L510.60,998.49 L515.53,998.43 L520.47,998.38 L525.40,998.33 L530.33,998.28 L535.26,998.23 L540.19,998.18 L545.13,998.12 L550.06,998.07 L554.99,998.02 L559.92,997.96 L564.86,997.91 L569.79,997.85 L574.72,997.80 L579.65,997.74 L584.59,997.68 L589.52,997.62 L594.45,997.56 L599.38,997.50 L604.32,997.44 L609.25,997.38 L614.18,997.31 L619.12,997.25 L624.05,997.18 L628.98,997.11 L633.91,997.04 L638.85,996.97 L643.78,996.89 L648.71,996.81 L653.64,996.73 L658.58,996.65 L663.51,996.56 L668.44,996.47 L673.37,996.37 L678.31,996.26 L683.24,996.15 L688.17,996.02 L693.10,995.88 L698.03,995.71 L698.90,995.67 L701.90,995.54 L702.97,995.48 L703.90,995.42 L705.40,995.31 L706.40,995.21 L707.90,995.00" stroke="#000" stroke-width="4.5" fill="none" stroke-linejoin="round"/>
<path d="M116.00,1008.60 L117.50,1008.40 L118.50,1008.30 L120.00,1008.18 L120.93,1008.13 L122.00,1008.07 L125.00,1007.93 L125.86,1007.90 L130.80,1007.72 L135.73,1007.58 L140.66,1007.45 L145.59,1007.34 L150.53,1007.23 L155.46,1007.13 L160.39,1007.04 L165.32,1006.95 L170.26,1006.87 L175.19,1006.79 L180.12,1006.71 L185.06,1006.63 L189.99,1006.56 L194.92,1006.49 L199.85,1006.42 L204.78,1006.35 L209.72,1006.29 L214.65,1006.22 L219.58,1006.16 L224.51,1006.10 L229.45,1006.04 L234.38,1005.98 L239.31,1005.92 L244.25,1005.86 L249.18,1005.81 L254.11,1005.75 L259.04,1005.69 L263.98,1005.64 L268.91,1005.58 L273.84,1005.53 L278.77,1005.48 L283.71,1005.42 L288.64,1005.37 L293.57,1005.32 L298.50,1005.27 L303.44,1005.22 L308.37,1005.17 L313.30,1005.12 L318.23,1005.07 L323.16,1005.02 L328.10,1004.97 L333.03,1004.92 L337.96,1004.87 L342.89,1004.82 L347.83,1004.77 L352.76,1004.72 L357.69,1004.67 L362.62,1004.63 L367.56,1004.58 L372.49,1004.53 L377.42,1004.48 L382.36,1004.43 L387.29,1004.39 L392.22,1004.34 L397.15,1004.29 L402.08,1004.25 L407.02,1004.20 L411.95,1004.15 L416.88,1004.10 L421.81,1004.06 L426.75,1004.01 L431.68,1003.96 L436.61,1003.91 L441.55,1003.87 L446.48,1003.82 L451.41,1003.77 L456.34,1003.72 L461.28,1003.67 L466.21,1003.63 L471.14,1003.58 L476.07,1003.53 L481.00,1003.48 L485.94,1003.43 L490.87,1003.38 L495.80,1003.33 L500.74,1003.29 L505.67,1003.24 L510.60,1003.19 L515.53,1003.13 L520.47,1003.08 L525.40,1003.03 L530.33,1002.98 L535.26,1002.93 L540.19,1002.88 L545.13,1002.82 L550.06,1002.77 L554.99,1002.72 L559.92,1002.66 L564.86,1002.61 L569.79,1002.55 L574.72,1002.50 L579.65,1002.44 L584.59,1002.38 L589.52,1002.32 L594.45,1002.26 L599.38,1002.20 L604.32,1002.14 L609.25,1002.08 L614.18,1002.01 L619.12,1001.95 L624.05,1001.88 L628.98,1001.81 L633.91,1001.74 L638.85,1001.67 L643.78,1001.59 L648.71,1001.51 L653.64,1001.43 L658.58,1001.35 L663.51,1001.26 L668.44,1001.17 L673.37,1001.07 L678.31,1000.96 L683.24,1000.85 L688.17,1000.72 L693.10,1000.58 L698.03,1000.41 L698.90,1000.37 L701.90,1000.24 L702.97,1000.18 L703.90,1000.12 L705.40,1000.01 L706.40,999.91 L707.90,999.70" stroke="#000" stroke-width="2.8" fill="none" stroke-linejoin="round"/>
</g>
<polygon points="121.20,933.80 706.70,933.80 706.90,936.00 706.90,936.90 701.30,941.60 706.90,946.30 706.90,954.70 701.30,959.40 706.90,964.10 706.90,972.50 701.30,977.20 706.90,981.90 706.90,989.30 701.70,993.40 117.00,993.40 117.00,990.80 122.60,986.10 117.00,981.40 117.00,973.00 122.60,968.30 117.00,963.60 117.00,955.20 122.60,950.50 117.00,945.80 117.00,937.40 117.00,936.60" class="o" stroke-linejoin="round"/>
<path d="M235.2,1004.7 L235.2,1048.5 Q235.2,1050.8 237.5,1050.8 L586.6,1050.8 Q588.9,1050.8 588.9,1048.5 L588.9,1004.7" class="w"/>
<path d="M236.4,1050.6 L587.7,1050.6" class="o" style="stroke-width:5.4;stroke-linecap:round"/>
<rect x="134.2" y="993.4" width="556.2" height="11.3" class="w"/>
<path d="M323.40,1051.00 L323.40,1058.00" class="o"/>
<path d="M500.40,1051.00 L500.40,1058.00" class="o"/>
<rect x="287.8" y="1058" width="248" height="59.1" class="w" stroke-linejoin="round"/>
<path d="M329.4,1117 L329.4,1612.3 L648.5,1612.3 M494.8,1117 L494.8,1447.6 L648.5,1447.6 M329.4,1612.3 L494.8,1447.6" class="o" stroke-linejoin="round"/>
<rect x="648.5" y="1412.3" width="1062.8" height="236.2" class="w"/>
<path d="M31.50,933.60 L107.10,933.60" class="t"/>
<path d="M32.20,1648.60 L632.70,1648.60" class="t"/>
<path d="M69.10,972.90 L69.10,1261.20" class="t"/>
<path d="M69.10,1321.10 L69.10,1609.10" class="t"/>
<polygon points="69.10,934.00 61.90,973.80 76.30,973.80" class="f"/>
<polygon points="69.10,1648.20 61.90,1608.40 76.30,1608.40" class="f"/>
<circle cx="55.40" cy="1299.90" r="9.8" class="g"/><path d="M61.33,1274.30 L47.33,1294.30" class="g"/>
<polygon points="78.00,1274.10 85.20,1274.10 85.20,1310.30 81.60,1310.30 81.60,1277.20 75.90,1277.20" class="f"/>
<path d="M722.20,933.60 L793.20,933.60" class="t"/>
<path d="M600.90,1052.00 L793.20,1052.00" class="t"/>
<path d="M755.80,859.20 L755.80,894.10" class="t"/>
<path d="M755.80,1090.90 L755.80,1126.40" class="t"/>
<polygon points="755.80,933.20 748.60,893.40 763.00,893.40" class="f"/>
<polygon points="755.80,1052.40 748.60,1092.20 763.00,1092.20" class="f"/>
<polygon points="736.80,975.80 744.00,975.80 744.00,1012.00 740.40,1012.00 740.40,978.90 734.70,978.90" class="f"/>
<path d="M759.05,993.90 C759.05,982.88 763.27,976.40 769.60,976.40 C775.93,976.40 780.15,982.88 780.15,993.90 C780.15,1004.92 775.93,1011.40 769.60,1011.40 C763.27,1011.40 759.05,1004.92 759.05,993.90Z" class="g"/>
<path d="M648.50,1328.30 L648.50,1396.10" class="t"/>
<path d="M1711.50,1328.30 L1711.50,1396.10" class="t"/>
<path d="M687.90,1365.30 L1137.90,1365.30" class="t"/>
<path d="M1221.50,1365.30 L1672.10,1365.30" class="t"/>
<polygon points="648.50,1365.30 688.30,1358.10 688.30,1372.50" class="f"/>
<polygon points="1711.20,1365.30 1671.40,1358.10 1671.40,1372.50" class="f"/>
<circle cx="1165.30" cy="1358.30" r="9.8" class="g"/><path d="M1159.37,1383.90 L1173.37,1363.90" class="g"/>
<path d="M1183.25,1366.00 C1183.25,1354.97 1187.47,1348.50 1193.80,1348.50 C1200.13,1348.50 1204.35,1354.97 1204.35,1366.00 C1204.35,1377.03 1200.13,1383.50 1193.80,1383.50 C1187.47,1383.50 1183.25,1377.03 1183.25,1366.00Z" class="g"/>
<path d="M329.40,1628.50 L329.40,1735.60" class="t"/>
<path d="M1711.50,1663.60 L1711.50,1735.60" class="t"/>
<path d="M368.90,1698.60 L964.70,1698.60" class="t"/>
<path d="M1076.10,1698.60 L1672.10,1698.60" class="t"/>
<polygon points="329.70,1698.60 369.50,1691.40 369.50,1705.80" class="f"/>
<polygon points="1711.20,1698.60 1671.40,1691.40 1671.40,1705.80" class="f"/>
<polygon points="988.20,1680.90 995.40,1680.90 995.40,1717.10 991.80,1717.10 991.80,1684.00 986.10,1684.00" class="f"/>
<polygon points="1016.00,1680.90 1023.20,1680.90 1023.20,1717.10 1019.60,1717.10 1019.60,1684.00 1013.90,1684.00" class="f"/>
<polygon points="1037.30,1680.90 1059.90,1680.90 1041.90,1717.70 1038.30,1716.10 1054.60,1684.00 1037.30,1684.00" class="f"/>
</g>
</svg></body></html>
